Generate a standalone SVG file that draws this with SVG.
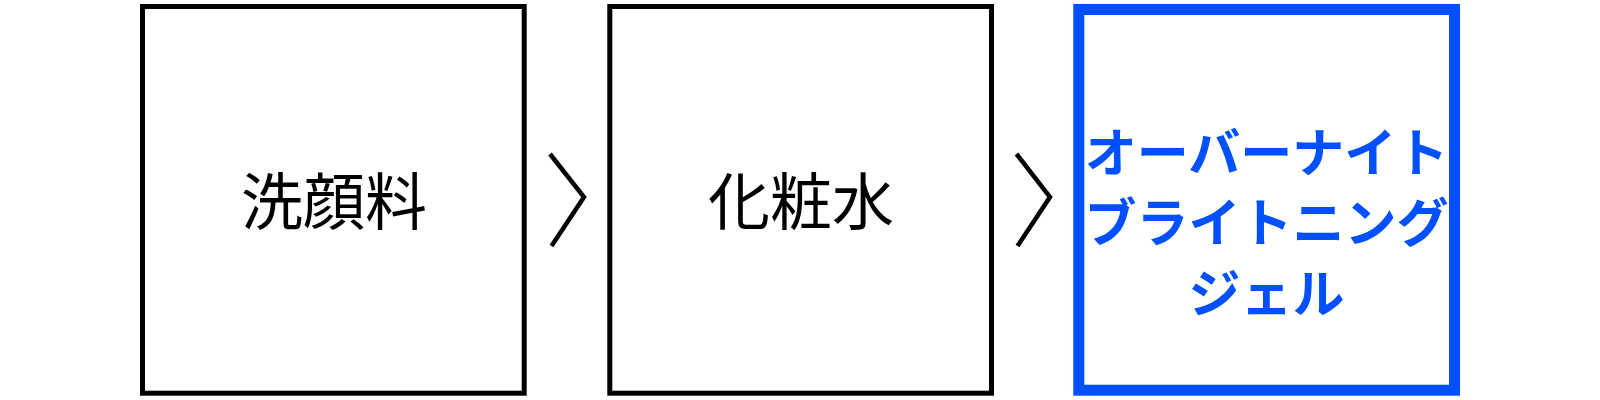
<svg xmlns="http://www.w3.org/2000/svg" width="1600" height="400" viewBox="0 0 1600 400">
<style>
.box{fill:#fff;stroke:#000;stroke-width:5}
.hl{fill:#fff;stroke:#0050ff;stroke-width:11}
.lbl{font-family:"Noto Sans CJK JP","Noto Sans",sans-serif;font-size:62px;fill:#000;text-anchor:middle}
.hlt{font-family:"Noto Sans CJK JP","Noto Sans",sans-serif;font-size:52px;font-weight:bold;fill:#0050ff;text-anchor:middle}
.chev{fill:none;stroke:#000;stroke-width:4.5}
</style>
<rect width="1600" height="400" fill="#fff"/>
<g id="node-1">
<rect class="box" x="142.5" y="6.5" width="381.7" height="386.7"/>
<text class="lbl" x="334" y="225">洗顔料</text>
</g>
<g id="node-2">
<rect class="box" x="609.8" y="6.5" width="381.7" height="386.7"/>
<text class="lbl" x="801" y="225">化粧水</text>
</g>
<g id="node-3">
<rect class="hl" x="1078.8" y="9.5" width="375.7" height="380.7"/>
<text class="hlt" x="1266.6" y="172">オーバーナイト</text>
<text class="hlt" x="1266.6" y="242">ブライトニング</text>
<text class="hlt" x="1266.6" y="313">ジェル</text>
</g>
<g id="connectors">
<polyline class="chev" points="550,154 584,197 551.5,246"/>
<polyline class="chev" points="1016.5,154 1050,197 1017.5,246"/>
</g>
</svg>
